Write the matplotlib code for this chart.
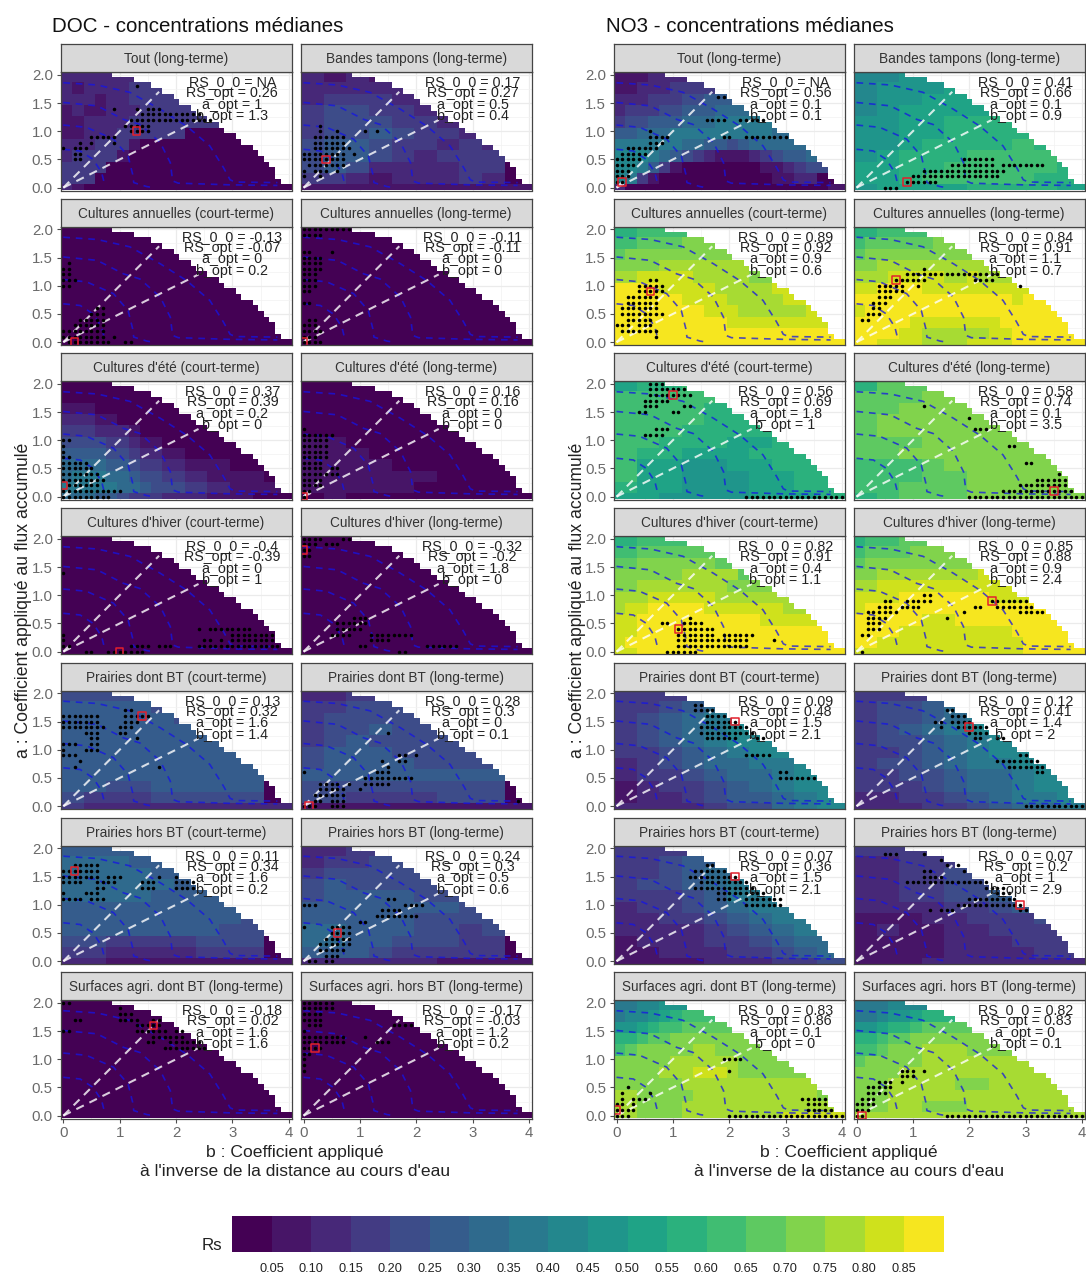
import numpy as np
import matplotlib
matplotlib.use("Agg")
import matplotlib.pyplot as plt
from matplotlib.colors import ListedColormap, BoundaryNorm

plt.rcParams['font.family'] = ['Liberation Sans', 'DejaVu Sans']
W, H = 1086, 1274

# number of b cells present in each a row, from a=2.0 down to a=0.0
ROW_CELLS = [9, 13, 16, 18, 20, 21, 23, 24, 26, 28, 29, 31, 32, 34, 35, 36, 37, 38, 38, 39, 41]
BREAKS = [0.05, 0.10, 0.15, 0.20, 0.25, 0.30, 0.35, 0.40, 0.45, 0.50, 0.55, 0.60, 0.65, 0.70, 0.75, 0.80, 0.85]

TITLES = ["Tout (long-terme)", "Bandes tampons (long-terme)",
          "Cultures annuelles (court-terme)", "Cultures annuelles (long-terme)",
          "Cultures d'été (court-terme)", "Cultures d'été (long-terme)",
          "Cultures d'hiver (court-terme)", "Cultures d'hiver (long-terme)",
          "Prairies dont BT (court-terme)", "Prairies dont BT (long-terme)",
          "Prairies hors BT (court-terme)", "Prairies hors BT (long-terme)",
          "Surfaces agri. dont BT (long-terme)", "Surfaces agri. hors BT (long-terme)"]

DOC_RS00 = ["NA", "0.17", "-0.13", "-0.11", "0.37", "0.16", "-0.4", "-0.32", "0.13", "0.28", "0.11", "0.24", "-0.18", "-0.17"]
DOC_RSOPT = ["0.26", "0.27", "-0.07", "-0.11", "0.39", "0.16", "-0.39", "-0.2", "0.32", "0.3", "0.34", "0.3", "0.02", "-0.03"]
DOC_AOPT = ["1", "0.5", "0", "0", "0.2", "0", "0", "1.8", "1.6", "0", "1.6", "0.5", "1.6", "1.2"]
DOC_BOPT = ["1.3", "0.4", "0.2", "0", "0", "0", "1", "0", "1.4", "0.1", "0.2", "0.6", "1.6", "0.2"]
NO3_RS00 = ["NA", "0.41", "0.89", "0.84", "0.56", "0.58", "0.82", "0.85", "0.09", "0.12", "0.07", "0.07", "0.83", "0.82"]
NO3_RSOPT = ["0.56", "0.66", "0.92", "0.91", "0.69", "0.74", "0.91", "0.88", "0.48", "0.41", "0.36", "0.2", "0.86", "0.83"]
NO3_AOPT = ["0.1", "0.1", "0.9", "1.1", "1.8", "0.1", "0.4", "0.9", "1.5", "1.4", "1.5", "1", "0.1", "0"]
NO3_BOPT = ["0.1", "0.9", "0.6", "0.7", "1", "3.5", "1.1", "2.4", "2.1", "2", "2.1", "2.9", "0", "0.1"]

# Rs class (0-h) read per block: rows a=2.0 ... a=0; columns b=0.. by 0.4 (short rows) or 0.2 (long rows)
ZERO = ["0"] * 11
DOC_LEVELS = [
 ["22222","21222233","2221223333","121122233333","1122223333333","112223333330000","2223331000000000","233331000000000000","3333000000000000000","3330000000000000000","21000000000000000000"],
 ["21212","222222","2333222","3443322","3444332200","3445433200","4554332320","4554323330","4542222330","3321222320","1111111111"],
 ZERO, ZERO,
 ["00000","00000000","1110000000","222110000000","3332221000000","444433211000000","5555443221100000","666655433221111000","6777665443322111110","7777766544433221111","66655433322221111000"],
 ["0","0","0","0","0","1100000000","1110000000","1111000000","1111110000","1111100000","0100000000"],
 ZERO, ZERO,
 ["44444","5555444","5555544","5555555","5555555500","5555555500","5555555550","5555555550","5544555550","4333444440","3222222222"],
 ["22333","3344440","3444444","3445444","3454444400","4555444400","4555544440","5555555550","4444444440","4433334440","1111111111"],
 ["55554","6665544","6666555","6666655","6666555500","5555555500","5555555540","5555555440","4433334440","3322223330","2211111111"],
 ["22333","2334440","3444444","4544444","4555544400","5555555400","5555544440","6655544340","6655444330","5554333330","2222221111"],
 ZERO, ZERO]
NO3_LEVELS = [
 ["11122","11222333","2223334455","233344555666","3445556667777","556667777777776","7777776655456666","888765432111234556","8875310000000112344","8731000000000011220","20000000000000000001"],
 ["88999","8999aaaaaa","899aaaaaaa","89aaaaabbb","99aabbbbbb","99aabbbbbb","99abbbbcbb","9abbbccccb","aabbcccccb","aabcccccbb","9aaaabbbba"],
 ["bbccc","ccddddee","deeeeeeeee","eeeeffffffff","ffgggggfffffe","hhhhgggggfffffg","hhhhhhggggfffffg","hhhhhhhhgggffffffg","hhhhhhhhhhgggggggggh","hhhhhhhhhhhhhhhhhhh","hhhhhhhhhhhhhhhhhhhh"],
 ["bbccc","cdddddde","deeeeeeeee","eeffffffffff","fffgggggffgff","gghhhhgggggggg","hhhhhhhhhhhhhhgh","ghhhhhhhhhhhhhhhhh","hhhhhgggggggghhhhhh","hhhhggffffffgghhhhh","hhggggffffgggghhhhhh"],
 ["abbcc","cccccb","ccccbbb","ccccbbbb","cccbbbbb","ccbbbaabbb","cbbaaabbbb","caa99aabbc","caa999aabb","baa999aabb","aa9999aaab"],
 ["bdddd","dddeee","ddeeeeee","deeeeeee","deeeeeee","dddeeeee","ddeeeeeee","cccdeeeeee","cccddeeeee","ccdddeeeee","bcdddeeeee"],
 ["bbccc","ccdddddd","ddeeeeeeed","eeeeeefffffd","eeffffffffeee","fffggggggffffff","fgghhhhhgggggggf","gghhhhhhhhhhhggggg","gghhhhhhhhhhhhhhhhh","ghhhhhhhhhhhhhhhhhh","gghhhhhhhhhhhhhhhhhh"],
 ["bcccd","cddddeee","deeeeeeeee","eefffffffffg","ffggggggggggg","gggghhhhhhhhggg","ghhhhhhhhhhhhhhh","hhhhhhggghhhhhhhhh","hhhhgggggggggghhhhh","hhggggggggggggghhhh","ggggggggggggggghhhhh"],
 ["33333","3345666","34567777","3456788","3456788888","3345678888","2345667788","2334566788","1233456788","1223455678","2222344678"],
 ["33333","3445677","3445678","3456788","3445678888","3345678888","3445677888","3344566788","3334566788","2233456778","2223345667"],
 ["33333","3345566","3345667","3445678","3334577888","2334567778","2233456777","2222345677","1222334566","1122233456","1111222334"],
 ["33332","2233333","2233444","2233444","2233445555","2222334555","1112233344","1211223334","1111222333","1111222233","1112222222"],
 ["77889","7889abcc","99abccdddd","bbcddeeeeeee","cdeeeeeffeeee","eeeeeffffffeeee","eeeefffgggfeeeee","eeeeeeffffffffffff","ffeeeeefffffffffffe","ffeeeefffffffffffff","ffeeeefffffffffgggg"],
 ["77788","77899abb","99abbcdddd","bbcddeeeeeee","ccdeeeffffeee","deeeeefffffffff","eeeeffffffffffff","eeeffffffeeeffffff","eeeffffffffffffffff","eeefffeeeeffffffffff","ffffffffffffffffffff"]]

# significant cells: "a*10:b*10-b*10,...;..."
DOC_DOTS = [
 "18:13;14:9,13,15-17;13:14-24;12:12-26;11:11-15;10:12-15;9:5-9;8:3,5,9;7:0,2-4;6:2-3;5:2-3",
 "11:3;10:3,6,11,13;9:2-7;8:2-7;7:2-8;6:0-7,9;5:0-7;4:1-7;3:0,2-4,6;2:0,3",
 "14:1;13:0-1;12:0-1;11:0-2;10:0-1;6:6-7;5:5-7;4:3-7;3:2-7;2:0-7;1:0-7,9;0:1-8,11-12",
 "20:0-8;19:0-3;16:0-1,5;15:0-3;14:0-3;13:0-3;12:0-2;11:0-2;10:0-2;9:0-1;7:0-1;4:1-2;3:0-2;2:0-3;1:0-2;0:0-3",
 "10:0-1;9:0;8:0;7:0-1;6:0-4;5:0-5;4:0-6;3:0-7;2:1-6;1:0-10;0:0-8",
 "12:0;11:0-5;10:0-4;9:0-4;8:0-4;7:0-4;6:0-3;5:0-3,5-6;4:0-6;3:0-3;2:0-3;1:0-1;0:0",
 "14:0;4:24,26-33;3:0,30-37;2:0,25-26,28,30-37;1:0-1,12-15,17-19,24-38;0:4-5,8-14",
 "20:0-3,7-8;19:0-2,4-6;18:0-1;17:0-1;6:9-11;5:6-11;4:6-10;3:5-8,12-19;2:12-15;1:10-11,22-27;0:17-18",
 "17:11-12;16:0-6,11-15;15:0-6,11-13;14:0-7,10-12;13:4-6,10-11;12:5-6,13;11:0-2,5-6;10:0,4-6;9:0-2;8:3;7:2,17",
 "13:15;9:17-18,20;8:14,17-18;7:15;6:0,13-15;5:11-19;4:3-6,8,11-15;3:3-7,10;2:2-7;1:2,3,5-7,38;0:0-2,5-7",
 "17:2-6;16:0-6;15:0-6,8-10,17,20;14:0-3,6-9,14-16,20-23;13:6-7,14-16,20-23;12:0,4-6;11:0-3,5-7",
 "11:15-16;10:0,1-2,18-21;9:14-17;8:13-20;7:10-11;6:0,5-8;5:5-8;4:4-8;3:3-8;2:3-7;1:4-6;0:1-2,4-5",
 "20:0-1;19:10;18:10-12;17:2-3,10-13,16-17;16:13-17;15:0-1,13-18,20-21;14:16-21;13:15-16,19-24;12:18-25",
 "20:0-5;19:0-5;18:0-3;17:0-3;16:1-3,16-19;15:0;14:0-7,11;13:0-7,13-15;12:0-3;11:0-1;10:0;9:0;8:0"]
NO3_DOTS = [
 "16:18-19;12:16-19,22,23-26;10:6;9:6-9,19-20,23-30;8:6-8;7:2-7;6:1-5;5:0-4;4:0-3;3:0-2;2:0-2;1:0-1",
 "5:19-24;4:17-24,26-33;3:12-26;2:10-25;1:9-14;0:5-7",
 "11:6-7;10:4-8;9:4-8;8:2-7;7:2-7;6:1-7;5:1-8;4:2-6;3:0-2,4-6;2:1-7;1:7",
 "13:12;12:9-25;11:7-12,21-24;10:4-8,11,29;9:4-8;8:4-6;7:3-5;6:3,4;5:2-4;4:1-2",
 "20:6-8;19:6-12;18:6-13;17:5-9;16:5-7,12-13;15:4-5,10-11;12:7-9;11:5-8;0:23-40",
 "16:12;14:20;12:21-23;9:27-28;6:30-31;4:36;3:32-37;2:29-37;1:26-38;0:20-40",
 "6:13;5:8-9,12-15;4:11-17;3:11-17,19-24;2:11-23,28;1:11-23;0:9-14",
 "10:12-13;9:5-6,9-13,24-30;8:4-6,8-11,21-22,25-31;7:2-7,19,29-33;6:2-5,16;5:2-4;4:2-4;3:1-2;0:1",
 "18:14-15;17:14-17;16:16-19;15:16-21;14:15-23;13:15-24;12:16-21,25-26;9:23-27;6:29-30;5:29-35",
 "17:16-17;16:17-19;15:14-15,17-20;14:15,18-23;13:20-23;12:21-22,25-26;9:29-30;8:25-32;7:27-33;6:32-33;0:30-40",
 "17:16-17;16:14-19;15:13-21;14:15-23;13:14-24;12:18-26;11:18-20,23-29;10:23-29",
 "19:5-7,12;18:15;17:16,18;16:12-13,19;15:12-15;14:9-23;13:23-26;12:25-27;11:20-28;10:18-29;9:13,15-17,29-30",
 "10:19-22;8:20;5:2;4:1,6;3:1,3-5,33-37;2:0,1,3,34-37;1:0-3,34-38;0:0-2,20-40",
 "8:8-10,12;7:8-10;6:4-6,8;5:2-6;4:2-5;3:1-3;2:0-3;1:0-2;0:0-1,16-40"]

# reference curves
ARC1_B = [0.0, 0.6, 1.18, 1.72, 2.19, 2.6, 2.84, 2.96, 3.05, 3.8]
ARC1_A = [1.86, 1.82, 1.69, 1.39, 1.09, 0.74, 0.36, 0.14, 0.10, 0.09]
ARC2_B = [0.0, 0.6, 1.07, 1.36, 1.72, 1.9, 1.94, 2.04, 2.96, 3.8]
ARC2_A = [1.51, 1.45, 1.21, 1.12, 0.8, 0.44, 0.12, 0.08, 0.05, 0.04]
ARC3_B = [0.0, 0.41, 0.89, 1.15, 1.23, 1.25, 1.48, 1.6]
ARC3_A = [1.11, 1.07, 0.86, 0.56, 0.24, 0.09, 0.02, 0.0]
ARC4_B = [0.0, 0.3, 0.53, 0.68, 0.74]
ARC4_A = [0.68, 0.65, 0.5, 0.27, 0.03]
RAY1_B, RAY1_A = [0, 1.7], [0, 1.7]
RAY2_B, RAY2_A = [0, 2.4], [0, 1.2]

ROW_TOPS = [72, 226.5, 381, 536, 690.5, 845.5, 1000]
PANEL_H = 118.5
COLS = {"DOC": (60.5, 300.7), "NO3": (613.7, 853.7)}
PANEL_W = 231

CODES = "0123456789abcdefgh"
cols18 = plt.get_cmap("viridis")(np.linspace(0, 0.985, 18))
cmap = ListedColormap(cols18)
norm = BoundaryNorm([-1] + BREAKS + [2], 18)


def expand(rows):
    """block readings -> Rs values on the 21 x 41 grid (row 0 is a=2.0)"""
    out = np.zeros((21, 41))
    n = 20 if max(len(r) for r in rows) > 10 else 10
    take = np.minimum(np.arange(41) * n // 40, n - 1)
    for i, r in enumerate(rows):
        r = r.ljust(n, r[-1])
        vals = np.array([0.025 + 0.05 * CODES.index(c) for c in r])[take]
        if i == 10:
            out[20] = vals
        else:
            out[2 * i] = vals
            out[2 * i + 1] = vals
    for i, k in enumerate(ROW_CELLS):
        out[i, k:] = np.nan
    return out


def parse_dots(spec):
    aa, bb = [], []
    for part in spec.split(";"):
        a, rest = part.split(":")
        for rng in rest.split(","):
            p = rng.split("-")
            for b in range(int(p[0]), int(p[-1]) + 1):
                aa.append(int(a) / 10)
                bb.append(b / 10)
    return bb, aa


fig = plt.figure(figsize=(W / 100, H / 100), dpi=100, facecolor="white")


def ax_px(x0, y0, w, h, **kw):
    return fig.add_axes([x0 / W, 1 - (y0 + h) / H, w / W, h / H], **kw)


def ftext(x, y, s, **kw):
    fig.text(x / W, 1 - y / H, s, **kw)


def panel(x0, y0, idx, levels, dots, rs0, rsopt, aopt, bopt, left, bottom):
    ax = ax_px(x0, y0, PANEL_W, PANEL_H)
    ax.set_axisbelow(True)
    ax.set_xlim(-0.05, 4.05)
    ax.set_ylim(-0.05, 2.05)
    ax.set_xticks([0, 1, 2, 3, 4])
    ax.set_yticks([0, 0.5, 1, 1.5, 2])
    ax.set_xticks([0.5, 1.5, 2.5, 3.5], minor=True)
    ax.set_yticks([0.25, 0.75, 1.25, 1.75], minor=True)
    ax.grid(True, which="major", color="#ebebeb", lw=0.9)
    ax.grid(True, which="minor", color="#f2f2f2", lw=0.5)
    ax.tick_params(which="minor", length=0)
    ax.tick_params(which="major", length=3, width=0.8, color="#4d4d4d", labelcolor="#6a6a6a",
                   labelsize=10.8, pad=2.5, left=left, labelleft=left, bottom=bottom, labelbottom=bottom)
    if left:
        ax.set_yticklabels(["0.0", "0.5", "1.0", "1.5", "2.0"])
    z = expand(levels)[::-1]
    ax.imshow(z, origin="lower", extent=(-0.05, 4.05, -0.05, 2.05), aspect="auto",
              cmap=cmap, norm=norm, interpolation="nearest", zorder=1)
    for b, a in ((ARC1_B, ARC1_A), (ARC2_B, ARC2_A), (ARC3_B, ARC3_A), (ARC4_B, ARC4_A)):
        ax.plot(b, a, color="#1414e6", alpha=0.75, lw=1.2, dashes=(4, 3.5), zorder=2)
    for b, a in ((RAY1_B, RAY1_A), (RAY2_B, RAY2_A)):
        ax.plot(b, a, color="white", alpha=0.8, lw=1.5, dashes=(4, 3), zorder=3)
    bb, aa = parse_dots(dots)
    ax.scatter(bb, aa, s=6.5, color="black", linewidths=0, zorder=4)
    ax.scatter([float(bopt)], [float(aopt)], marker="s", s=30, facecolors="none",
               edgecolors="#e3202c", linewidths=1.1, zorder=5, clip_on=True)
    lines = [f"RS_0_0 = {rs0}", f"RS_opt = {rsopt}", f"a_opt = {aopt}", f"b_opt = {bopt}"]
    for s, a in zip(lines, (1.87, 1.67, 1.47, 1.27)):
        ax.text(3.0, a, s, ha="center", va="center", fontsize=10.3, color="#222222", zorder=6)
    for sp in ax.spines.values():
        sp.set_color("#444444")
        sp.set_linewidth(0.9)
        sp.set_zorder(7)
    st = ax_px(x0, y0 - 28, PANEL_W, 28)
    st.set_xticks([])
    st.set_yticks([])
    st.set_facecolor("#d9d9d9")
    for sp in st.spines.values():
        sp.set_color("#444444")
        sp.set_linewidth(0.9)
    st.text(0.5, 0.46, TITLES[idx], ha="center", va="center", fontsize=9.85, color="#333333",
            transform=st.transAxes)


for key, levels, dots, r0, ro, ao, bo in (
        ("DOC", DOC_LEVELS, DOC_DOTS, DOC_RS00, DOC_RSOPT, DOC_AOPT, DOC_BOPT),
        ("NO3", NO3_LEVELS, NO3_DOTS, NO3_RS00, NO3_RSOPT, NO3_AOPT, NO3_BOPT)):
    for i in range(14):
        r, c = i // 2, i % 2
        panel(COLS[key][c], ROW_TOPS[r], i, levels[i], dots[i], r0[i], ro[i], ao[i], bo[i], c == 0, r == 6)

ftext(52, 26, "DOC - concentrations médianes", fontsize=14.8, va="center", color="#111111")
ftext(606, 26, "NO3 - concentrations médianes", fontsize=14.8, va="center", color="#111111")
for xc, yl in ((295, 24), (849, 577)):
    ftext(xc, 1152, "b : Coefficient appliqué", fontsize=12.6, ha="center", va="center", color="#222222")
    ftext(xc, 1171, "à l'inverse de la distance au cours d'eau", fontsize=12.6, ha="center", va="center", color="#222222")
    ftext(yl, 600, "a : Coefficient appliqué au flux accumulé", fontsize=12.7, rotation=90,
          ha="center", va="center", color="#222222")

# binned colour legend
cax = ax_px(232, 1216, 711, 36)
cax.imshow(np.arange(18).reshape(1, 18), aspect="auto", cmap=cmap, extent=(0, 18, 0, 1), interpolation="nearest")
cax.set_xticks(np.arange(1, 18))
cax.set_xticklabels([f"{v:.2f}" for v in BREAKS])
cax.set_yticks([])
cax.tick_params(axis="x", length=0, labelsize=9.2, labelcolor="#222222", pad=8)
for sp in cax.spines.values():
    sp.set_visible(False)
ftext(212, 1246, "Rs", fontsize=12.2, ha="center", va="center", color="#222222")

fig.savefig("out.png", dpi=100, facecolor="white")
